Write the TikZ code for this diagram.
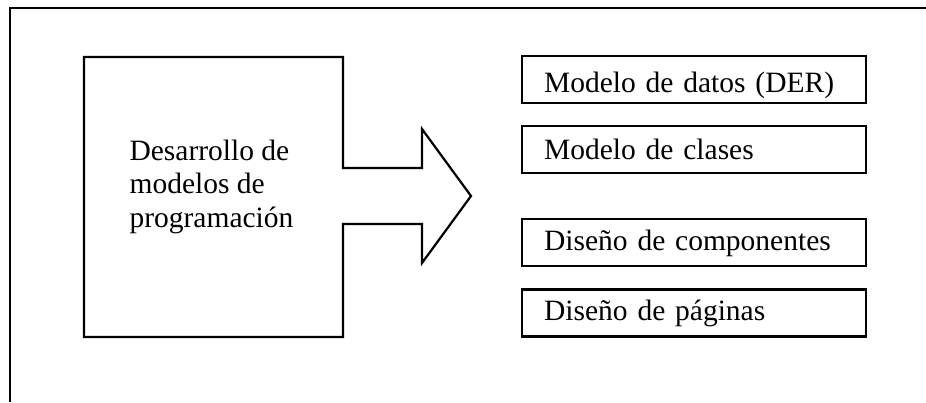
\documentclass[tikz,border=0pt]{standalone}
\usepackage{fontspec}
\setmainfont{Liberation Serif}
\begin{document}
\begin{tikzpicture}[x=1pt,y=-1pt,line width=2.2pt,line join=miter,
  lbl/.style={font=\fontsize{29.5pt}{33.5pt}\selectfont, inner sep=0pt},
  outbox/.style={draw, anchor=west, minimum width=344pt, minimum height=47pt,
    text width=300pt, inner xsep=22pt, inner ysep=0pt, align=left,
    font=\fontsize{29.5pt}{33.5pt}\selectfont, text height=#1, text depth=7pt}]
\useasboundingbox (0,0) rectangle (926,402);
% outer frame (top and left edges)
\coordinate (fTR) at (926,8);
\coordinate (fTL) at (10,8);
\coordinate (fBL) at (10,402);
\draw (fTR) -- (fTL) -- (fBL);
% source box merged with the block arrow
\draw (343,168) -- (343,57) -- (84,57) -- (84,337) -- (343,337) -- (343,224)
  -- (422,224) -- (422,263) -- (471,196) -- (422,129) -- (422,168) -- cycle;
\node[lbl, anchor=base west, align=left] (src) at (128.5,227)
  {Desarrollo de\\modelos de\\programación};
% output boxes
\node[outbox=34pt] (b1) at (521,79.2) {Modelo de datos (DER)};
\node[outbox=26pt] (b2) at (521,149.7) {Modelo de clases};
\node[outbox=22pt] (b3) at (521,242.5) {Diseño de componentes};
\node[outbox=21pt] (b4) at (521,313) {Diseño de páginas};
\end{tikzpicture}
\end{document}
